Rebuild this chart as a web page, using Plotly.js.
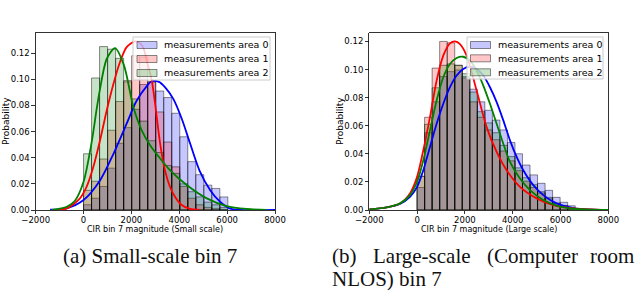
<!DOCTYPE html>
<html><head><meta charset="utf-8">
<script src="https://cdn.plot.ly/plotly-3.0.1.min.js"></script>
<style>html,body{margin:0;padding:0;background:#fff}#chart{width:640px;height:290px}</style>
</head><body><div id="chart"></div>
<script>
// ---------- data ----------
const seriesNames = ['measurements area 0', 'measurements area 1', 'measurements area 2'];
const xTickVals = [-2000, 0, 2000, 4000, 6000, 8000];
const yTickVals = [0, 0.02, 0.04, 0.06, 0.08, 0.10, 0.12];

// (a) small scale: histogram bin centres and probabilities
const smallBinCenters = [167, 502, 837, 1172, 1507, 1842, 2177, 2512, 2847, 3182, 3517, 3852, 4187, 4522, 4857, 5192, 5527, 5862];
const smallHist0 = [0.004, 0.009, 0.018, 0.032, 0.051, 0.063, 0.077, 0.096, 0.098, 0.091, 0.086, 0.074, 0.056, 0.037, 0.027, 0.019, 0.0165, 0.010];
const smallHist1 = [0.015, 0.022, 0.039, 0.061, 0.083, 0.099, 0.118, 0.117, 0.098, 0.075, 0.052, 0.033, 0.018, 0.009, 0.004, 0.002, 0.001, 0];
const smallHist2 = [0.043, 0.101, 0.125, 0.123, 0.116, 0.098, 0.085, 0.068, 0.053, 0.044, 0.034, 0.028, 0.020, 0.014, 0.010, 0.006, 0.004, 0.002];
// (a) fitted curves
const smallCurve0X = [-1400, -700, 0, 700, 1250, 1800, 2200, 2650, 2850, 3150, 3400, 3750, 4100, 4450, 4850, 5300, 5700, 6100, 6550, 8000];
const smallCurve0Y = [0.0003, 0.0013, 0.0076, 0.023, 0.043, 0.066, 0.083, 0.095, 0.0985, 0.098, 0.094, 0.085, 0.070, 0.051, 0.030, 0.015, 0.0064, 0.0013, 0, 0];
const smallCurve1X = [-1260, -700, -150, 130, 410, 690, 970, 1250, 1520, 1800, 2150, 2360, 2500, 2640, 2850, 2990, 3200, 3400, 3610, 3820, 4100, 4450, 4870];
const smallCurve1Y = [0, 0.0013, 0.0089, 0.0178, 0.033, 0.0534, 0.0763, 0.0966, 0.113, 0.1246, 0.1289, 0.1276, 0.124, 0.1144, 0.0991, 0.0813, 0.0508, 0.0305, 0.0178, 0.0102, 0.0038, 0.0008, 0];
const smallCurve2X = [-1330, -700, -360, 0, 340, 550, 690, 970, 1315, 1690, 2080, 2430, 2780, 3200, 3610, 4310, 5150, 5980, 6820, 7650];
const smallCurve2Y = [0, 0.0025, 0.0071, 0.0216, 0.0521, 0.0775, 0.0928, 0.1157, 0.1238, 0.1106, 0.0788, 0.061, 0.0496, 0.0394, 0.0305, 0.0191, 0.0089, 0.003, 0.0008, 0];

// (b) large scale: histogram bin centres and probabilities
const largeBinCenters = [157, 472, 787, 1102, 1417, 1732, 2047, 2362, 2677, 2992, 3307, 3622, 3937, 4252, 4567, 4882, 5197, 5512, 5827, 6142, 6457];
const largeHist0 = [0.016, 0.055, 0.077, 0.095, 0.0985, 0.0997, 0.095, 0.086, 0.077, 0.071, 0.064, 0.057, 0.048, 0.040, 0.032, 0.025, 0.019, 0.014, 0.009, 0.0055, 0.003];
const largeHist1 = [0.024, 0.066, 0.101, 0.120, 0.119, 0.103, 0.094, 0.077, 0.066, 0.057, 0.050, 0.042, 0.035, 0.028, 0.0205, 0.016, 0.012, 0.008, 0.0045, 0.003, 0.001];
const largeHist2 = [0.024, 0.061, 0.087, 0.103, 0.104, 0.103, 0.097, 0.084, 0.070, 0.062, 0.055, 0.046, 0.038, 0.030, 0.023, 0.018, 0.013, 0.009, 0.005, 0.003, 0.0015];
// (b) fitted curves
const largeCurve0X = [-2000, -1275, -717, -298, 0, 259, 538, 817, 1096, 1375, 1654, 1933, 2212, 2491, 2770, 3049, 3328, 3607, 3886, 4165, 4443, 4862, 5280, 5838, 6536, 7373, 8000];
const largeCurve0Y = [0.0005, 0.0019, 0.0043, 0.0094, 0.0165, 0.0283, 0.0449, 0.0614, 0.0756, 0.0874, 0.0957, 0.1004, 0.102, 0.1004, 0.0957, 0.0874, 0.0768, 0.0638, 0.0496, 0.0378, 0.0283, 0.0177, 0.0106, 0.0047, 0.0014, 0.0002, 0];
const largeCurve1X = [-2000, -1275, -717, -298, 0, 259, 538, 817, 1096, 1375, 1584, 1794, 2073, 2491, 2909, 3328, 3746, 4304, 5001, 5699, 6536, 8000];
const largeCurve1Y = [0.0005, 0.0019, 0.0047, 0.0118, 0.0236, 0.0425, 0.0661, 0.0921, 0.1099, 0.1186, 0.12, 0.1181, 0.1099, 0.085, 0.059, 0.0413, 0.0283, 0.0165, 0.0083, 0.0035, 0.0012, 0];
const largeCurve2X = [-2000, -1275, -717, -298, 0, 259, 538, 817, 1096, 1375, 1654, 1933, 2212, 2491, 2770, 3049, 3328, 3607, 3886, 4304, 4722, 5280, 5838, 6536, 8000];
const largeCurve2Y = [0.0005, 0.0019, 0.0047, 0.0106, 0.0201, 0.0354, 0.0567, 0.078, 0.0945, 0.1039, 0.1082, 0.1091, 0.1063, 0.0992, 0.0886, 0.0756, 0.0614, 0.0472, 0.0343, 0.0224, 0.0142, 0.0071, 0.0031, 0.0009, 0];

// ---------- style ----------
const W = 640, H = 290;
const px = v => v / W, py = v => 1 - v / H;
const fills = ['rgba(0,0,255,0.22)', 'rgba(255,0,0,0.22)', 'rgba(0,128,0,0.22)'];
const edges = 'rgba(0,0,0,0.45)';
const lines = ['#0000ff', '#ff0000', '#008000'];
const FONT = 'DejaVu Sans, Arial, sans-serif';

function bars(xs, ys, i, w, ax) {
  return {type: 'bar', x: xs, y: ys, width: w, name: seriesNames[i], xaxis: ax[0], yaxis: ax[1], showlegend: false,
    marker: {color: fills[i], line: {color: edges, width: 1}}, hoverinfo: 'skip'};
}
function curve(xs, ys, i, ax) {
  return {type: 'scatter', mode: 'lines', x: xs, y: ys, xaxis: ax[0], yaxis: ax[1], showlegend: false,
    line: {color: lines[i], width: 1.8, shape: 'spline', smoothing: 0.8}, hoverinfo: 'skip'};
}
const A1 = ['x', 'y'], A2 = ['x2', 'y2'];
const data = [
  bars(smallBinCenters, smallHist0, 0, 335, A1),
  bars(smallBinCenters, smallHist1, 1, 335, A1),
  bars(smallBinCenters, smallHist2, 2, 335, A1),
  bars(largeBinCenters, largeHist0, 0, 315, A2),
  bars(largeBinCenters, largeHist1, 1, 315, A2),
  bars(largeBinCenters, largeHist2, 2, 315, A2),
  curve(smallCurve0X, smallCurve0Y, 0, A1),
  curve(smallCurve1X, smallCurve1Y, 1, A1),
  curve(smallCurve2X, smallCurve2Y, 2, A1),
  curve(largeCurve0X, largeCurve0Y, 0, A2),
  curve(largeCurve1X, largeCurve1Y, 1, A2),
  curve(largeCurve2X, largeCurve2Y, 2, A2)
];

const tickFont = {family: FONT, size: 8.5, color: '#000'};
function xAx(dom, anchor) {
  return {domain: dom, anchor: anchor, range: [-2000, 8000], tickvals: xTickVals, ticks: 'outside', ticklen: 3.5,
    tickwidth: 0.8, tickcolor: '#000', showline: true, mirror: true, linecolor: '#000', linewidth: 0.8,
    showgrid: false, zeroline: false, tickfont: tickFont, ticklabelstandoff: -2, fixedrange: true};
}
function yAx(top, anchor) {
  return {domain: [py(210), py(33)], anchor: anchor, range: [0, top], tickvals: yTickVals, tickformat: '.2f',
    ticks: 'outside', ticklen: 3.5, tickwidth: 0.8, tickcolor: '#000', showline: true, mirror: true,
    linecolor: '#000', linewidth: 0.8, showgrid: false, zeroline: false, tickfont: tickFont, fixedrange: true};
}
const ann = (text, x, y, opts) => Object.assign({text: text, x: px(x), y: py(y), xref: 'paper', yref: 'paper',
  showarrow: false, xanchor: 'center', yanchor: 'middle'}, opts || {});
const axTitleFont = {family: FONT, size: 9, color: '#000'};
const xTitleFont = {family: FONT, size: 8, color: '#000'};
const capFont = {family: 'Liberation Serif, Times New Roman, serif', size: 21, color: '#111'};
const legFont = {family: FONT, size: 9.5, color: '#000'};

// legend boxes (one per panel), drawn with shapes + text
const shapes = [];
const annotations = [
  ann('Probability', 6, 121, {textangle: -90, font: axTitleFont}),
  ann('Probability', 340, 121, {textangle: -90, font: axTitleFont}),
  ann('CIR bin 7 magnitude (Small scale)', 155.4, 229.5, {font: xTitleFont}),
  ann('CIR bin 7 magnitude (Large scale)', 488.8, 229.5, {font: xTitleFont}),
  ann('(a) Small-scale bin 7', 150, 256, {font: capFont}),
  ann('(b)', 330, 256, {font: capFont, xanchor: 'left'}),
  ann('Large-scale', 370.5, 256, {font: capFont, xanchor: 'left'}),
  ann('(Computer', 484.5, 256, {font: capFont, xanchor: 'left'}),
  ann('room', 636, 256, {font: capFont, xanchor: 'right'}),
  ann('NLOS) bin 7', 330, 279, {font: capFont, xanchor: 'left'})
];
function legendBox(x0, x1, y0, y1, patchX, textX, rows) {
  shapes.push({type: 'rect', xref: 'paper', yref: 'paper', layer: 'above', x0: px(x0), x1: px(x1), y0: py(y1), y1: py(y0),
    fillcolor: 'rgba(255,255,255,0.8)', line: {color: '#cccccc', width: 1}});
  rows.forEach((ry, i) => {
    shapes.push({type: 'rect', xref: 'paper', yref: 'paper', layer: 'above', x0: px(patchX), x1: px(patchX + 20),
      y0: py(ry + 3.5), y1: py(ry - 3.5), fillcolor: fills[i], line: {color: edges, width: 1}});
    annotations.push(ann(seriesNames[i], textX, ry, {xanchor: 'left', font: legFont}));
  });
}
legendBox(133, 270, 37, 80, 137, 162, [45, 59, 73]);
legendBox(467, 603, 37, 79, 470.5, 496, [45, 58.3, 72.3]);

const layout = {
  width: W, height: H, margin: {l: 0, r: 0, t: 0, b: 0}, paper_bgcolor: '#fff', plot_bgcolor: '#fff',
  barmode: 'overlay', bargap: 0, showlegend: false,
  xaxis: xAx([px(35.7), px(275)], 'y'), yaxis: yAx(0.1354, 'x'),
  xaxis2: xAx([px(369.3), px(608.3)], 'y2'), yaxis2: yAx(0.126, 'x2'),
  shapes: shapes, annotations: annotations
};
Plotly.newPlot('chart', data, layout, {staticPlot: true, displayModeBar: false});
</script></body></html>
